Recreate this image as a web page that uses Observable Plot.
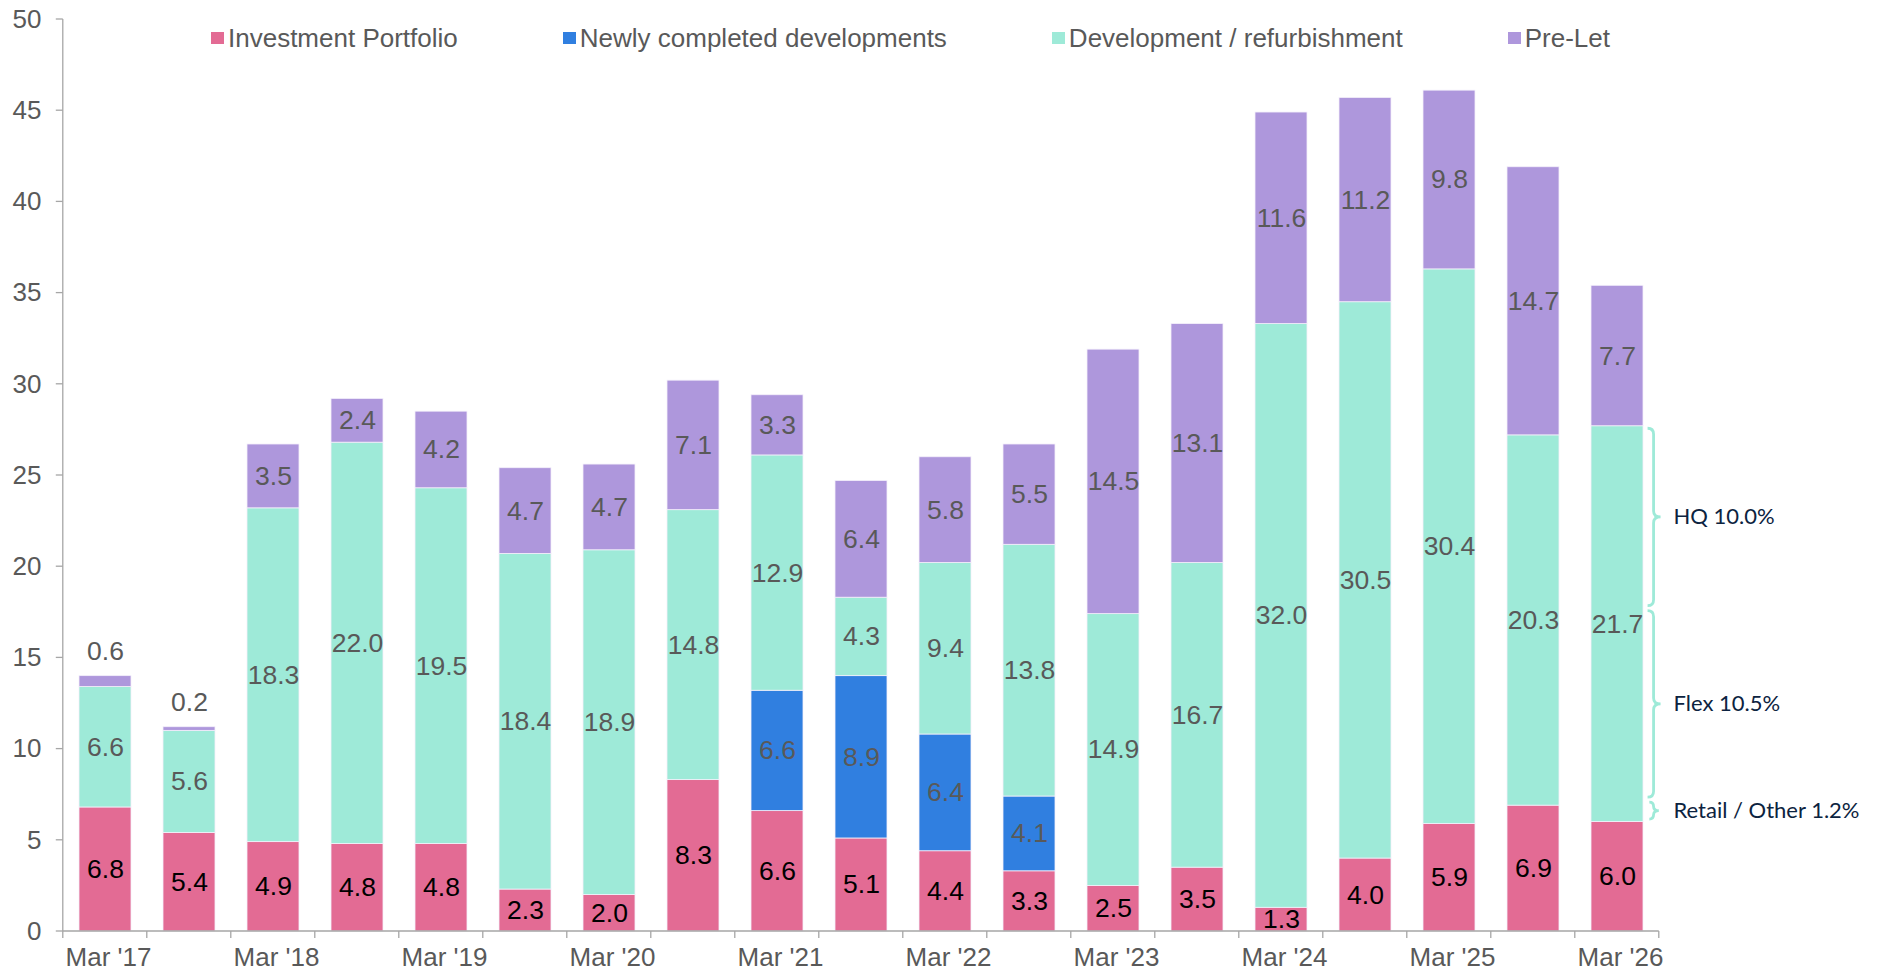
<!DOCTYPE html>
<html>
<head>
<meta charset="utf-8">
<script src="https://cdn.jsdelivr.net/npm/d3@7"></script>
<script src="https://cdn.jsdelivr.net/npm/@observablehq/plot@0.6"></script>
<style>
  html, body { margin: 0; padding: 0; background: #fff; }
  #wrap { position: relative; width: 1878px; height: 972px; }
  #legend { position: absolute; left: 211px; top: 23px; display: flex; gap: 105px;
    font: 26px "Liberation Sans", Arial, sans-serif; color: #595959; line-height: 30px; white-space: nowrap; }
  #legend .item { display: flex; align-items: center; }
  #legend .sw { width: 13px; height: 12px; margin-right: 4px; display: inline-block; }
</style>
</head>
<body>
<div id="wrap"><div id="legend"></div></div>
<script>
// ---------- data ----------
const periods = ["Mar '17","Sep '17","Mar '18","Sep '18","Mar '19","Sep '19","Mar '20","Sep '20","Mar '21","Sep '21",
                 "Mar '22","Sep '22","Mar '23","Sep '23","Mar '24","Sep '24","Mar '25","Sep '25","Mar '26"];
const xTickLabels = ["Mar '17","Mar '18","Mar '19","Mar '20","Mar '21","Mar '22","Mar '23","Mar '24","Mar '25","Mar '26"];
const yTicks = [0, 5, 10, 15, 20, 25, 30, 35, 40, 45, 50];

const seriesNames = ["Investment Portfolio", "Newly completed developments", "Development / refurbishment", "Pre-Let"];
const seriesColors = ["#E36B94", "#307FE0", "#9EEAD8", "#AE97DC"];

const investmentPortfolio = [6.8, 5.4, 4.9, 4.8, 4.8, 2.3, 2.0, 8.3, 6.6, 5.1, 4.4, 3.3, 2.5, 3.5, 1.3, 4.0, 5.9, 6.9, 6.0];
const newlyCompleted      = [0, 0, 0, 0, 0, 0, 0, 0, 6.6, 8.9, 6.4, 4.1, 0, 0, 0, 0, 0, 0, 0];
const development         = [6.6, 5.6, 18.3, 22.0, 19.5, 18.4, 18.9, 14.8, 12.9, 4.3, 9.4, 13.8, 14.9, 16.7, 32.0, 30.5, 30.4, 20.3, 21.7];
const preLet              = [0.6, 0.2, 3.5, 2.4, 4.2, 4.7, 4.7, 7.1, 3.3, 6.4, 5.8, 5.5, 14.5, 13.1, 11.6, 11.2, 9.8, 14.7, 7.7];

// breakdown of the latest development bar (listed top to bottom)
const breakdownLabels = ["HQ 10.0%", "Flex 10.5%", "Retail / Other 1.2%"];
const breakdownValues = [10.0, 10.5, 1.2];

// ---------- tables ----------
const seriesValues = [investmentPortfolio, newlyCompleted, development, preLet];
const rows = [];
seriesNames.forEach((s, k) => periods.forEach((p, i) => rows.push({period: p, series: s, value: seriesValues[k][i]})));

const last = periods.length - 1;
let base = investmentPortfolio[last] + newlyCompleted[last];
const breakdown = [];
for (let k = breakdownLabels.length - 1; k >= 0; k--) {
  const lo = base, hi = base + breakdownValues[k];
  breakdown.push({label: breakdownLabels[k], lo, hi, mid: (lo + hi) / 2, period: periods[last]});
  base = hi;
}

const PAD = 0.386;
const fmt = v => v.toFixed(1);

// ---------- legend ----------
const legend = d3.select("#legend");
seriesNames.forEach((s, k) => {
  const it = legend.append("div").attr("class", "item");
  it.append("span").attr("class", "sw").style("background", seriesColors[k]);
  it.append("span").text(s);
});

// ---------- decorations (axis lines, ticks, braces) ----------
function decor(index, scales, values, dimensions) {
  const {x, y} = scales;
  const step = x(periods[1]) - x(periods[0]);
  const bw = step * (1 - PAD);
  const gap = step - bw;
  const left = x(periods[0]) - gap / 2;
  const right = x(periods[last]) + bw + gap / 2;
  const y0 = y(0);
  const g = d3.create("svg:g");
  const axisColor = "#a6a6a6";
  g.append("line").attr("x1", left).attr("x2", right).attr("y1", y0).attr("y2", y0)
    .attr("stroke", axisColor).attr("stroke-width", 1.3);
  g.append("line").attr("x1", left).attr("x2", left).attr("y1", y(yTicks[yTicks.length - 1])).attr("y2", y0)
    .attr("stroke", axisColor).attr("stroke-width", 1.3);
  for (const t of yTicks) {
    g.append("line").attr("x1", left - 7).attr("x2", left).attr("y1", y(t)).attr("y2", y(t))
      .attr("stroke", axisColor).attr("stroke-width", 1.3);
  }
  for (let i = 0; i <= periods.length; i++) {
    const bx = left + i * step;
    g.append("line").attr("x1", bx).attr("x2", bx).attr("y1", y0).attr("y2", y0 + 7)
      .attr("stroke", axisColor).attr("stroke-width", 1.3);
  }
  // braces
  const xb = x(periods[last]) + bw + 11;
  for (const b of breakdown) {
    const ya = y(b.hi) + 2.5, yb = y(b.lo) - 2.5;
    const ym = (ya + yb) / 2;
    const r = Math.min(6, (yb - ya) / 4);
    const d = `M${xb - r},${ya} Q${xb},${ya} ${xb},${ya + r} L${xb},${ym - r} Q${xb},${ym} ${xb + r + 1},${ym} ` +
              `Q${xb},${ym} ${xb},${ym + r} L${xb},${yb - r} Q${xb},${yb} ${xb - r},${yb}`;
    g.append("path").attr("d", d).attr("fill", "none").attr("stroke", seriesColors[2]).attr("stroke-width", 2.8);
  }
  return g.node();
}

const chart = Plot.plot({
  width: 1878,
  height: 972,
  marginLeft: 61,
  marginRight: 217,
  marginTop: 19,
  marginBottom: 41,
  style: {fontFamily: "'Liberation Sans', Arial, sans-serif", fontSize: "26px", color: "#595959", background: "white", overflow: "visible"},
  x: {domain: periods, paddingInner: PAD, paddingOuter: PAD / 2, label: null},
  y: {domain: [0, 50], label: null},
  color: {domain: seriesNames, range: seriesColors},
  marks: [
    Plot.barY(rows, {x: "period", y: "value", fill: "series", stroke: "#f4f0fb", strokeWidth: 0.8}),
    Plot.text(rows, Plot.stackY({x: "period", y: "value", z: "series",
      text: d => (d.series === seriesNames[0] && d.value >= 1) ? fmt(d.value) : "", fill: "#000", fontSize: 26.5})),
    Plot.text(rows, Plot.stackY({x: "period", y: "value", z: "series",
      text: d => (d.series !== seriesNames[0] && d.value >= 1) ? fmt(d.value) : "", fill: "#595959", fontSize: 26.5})),
    Plot.text(rows, Plot.stackY2({x: "period", y: "value", z: "series",
      text: d => (d.value > 0 && d.value < 1) ? fmt(d.value) : "", fill: "#595959", fontSize: 26.5, dy: -25})),
    Plot.axisY({ticks: yTicks, tickSize: 0, tickPadding: 20, fontSize: 26}),
    Plot.axisX({ticks: xTickLabels, tickSize: 0, tickPadding: 16, fontSize: 26, dx: 3}),
    Plot.text(breakdown, {x: "period", y: "mid", text: "label", textAnchor: "start", dx: 56,
      fill: "#0c2340", fontFamily: "Lato, 'Open Sans', sans-serif", fontSize: 22})
    ,
    decor
  ]
});
document.getElementById("wrap").prepend(chart);
</script>
</body>
</html>
